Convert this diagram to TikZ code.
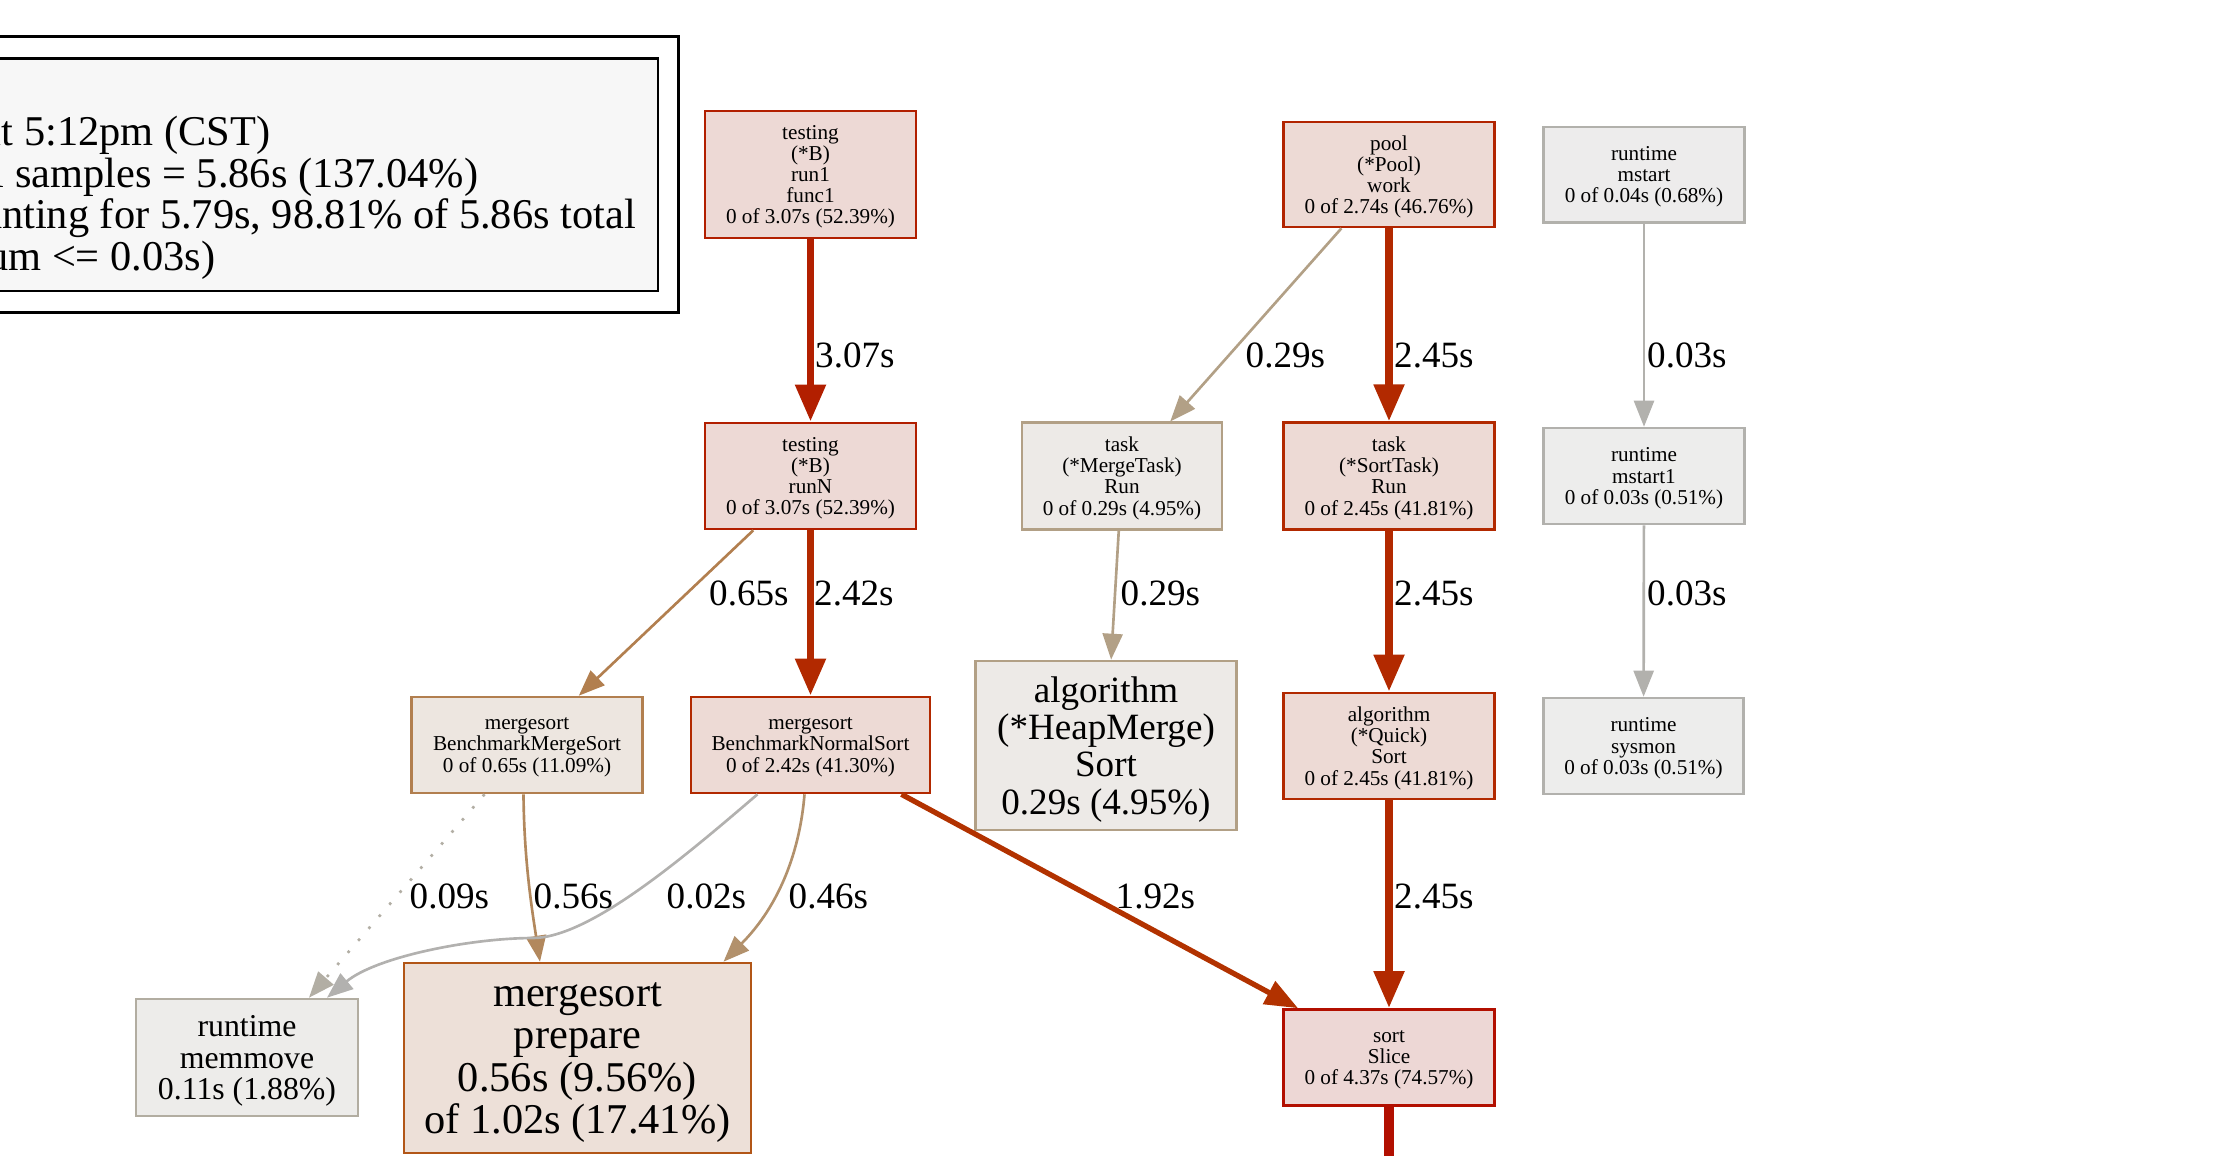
\documentclass[tikz,border=0pt]{standalone}
\usepackage{fontspec}
\setmainfont{Liberation Serif}
\usetikzlibrary{arrows.meta}
\definecolor{cA}{HTML}{B21F00}
\definecolor{fA}{HTML}{EDD9D5}
\definecolor{cPool}{HTML}{B22400}
\definecolor{cB}{HTML}{B22900}
\definecolor{fB}{HTML}{EDDAD5}
\definecolor{cSlice}{HTML}{B20F00}
\definecolor{fSlice}{HTML}{EDD7D5}
\definecolor{cC}{HTML}{B23200}
\definecolor{cMs}{HTML}{B27F4F}
\definecolor{fMs}{HTML}{EDE6E0}
\definecolor{cPrep}{HTML}{B25617}
\definecolor{fPrep}{HTML}{EDE0D8}
\definecolor{cTask}{HTML}{B2A086}
\definecolor{fTask}{HTML}{EDEAE7}
\definecolor{cMem}{HTML}{B2ADA1}
\definecolor{fMem}{HTML}{EDECEA}
\definecolor{cRt}{HTML}{B2B1AD}
\definecolor{fRt}{HTML}{EDEDEC}
\definecolor{cRtf}{HTML}{B2B1AC}
\definecolor{fRtf}{HTML}{EDECEC}
\definecolor{cEfs}{HTML}{B2885D}
\definecolor{cEfh}{HTML}{B2916C}
\definecolor{cEnine}{HTML}{B2AEA4}
\definecolor{cEtwo}{HTML}{B2B1AF}
\definecolor{fLeg}{HTML}{F7F7F7}
\newcommand\nodep[1]{\raisebox{0pt}[\height][0pt]{#1}}
\tikzset{
  fn/.style={draw, rectangle, inner sep=0pt, align=center, line width=2.6pt},
  fsmall/.style={font=\fontsize{21.2}{21.2}\selectfont},
  elab/.style={anchor=west, inner sep=0pt, font=\fontsize{37.1}{37.1}\selectfont},
  legtxt/.style={anchor=base east, inner sep=0pt, font=\fontsize{42.4}{42.4}\selectfont},
  eone/.style={line width=2.65pt, -{Triangle[length=26pt,width=20pt]}},
  etwo/.style={line width=5.3pt, -{Triangle[length=33pt,width=25pt]}},
  ethree/.style={line width=7.95pt, -{Triangle[length=37pt,width=29pt]}},
}
\begin{document}
\begin{tikzpicture}[x=1pt,y=-1pt]
\useasboundingbox (0,0) rectangle (2224,1156);
\clip (0,0) rectangle (2224,1156);

% legend
\node[draw, line width=2.8pt, inner sep=0pt, minimum width=1200pt, minimum height=276.1pt] (legendbox) at (78.6,174.45) {};
\node[draw, line width=2.8pt, fill=fLeg, inner sep=0pt, minimum width=1150pt, minimum height=232.8pt] (legend) at (83,174.6) {};
\node[legtxt] (lgtime) at (270.5,145.5) {at 5:12pm (CST)};
\node[legtxt] (lgsamp) at (478.5,187) {Total samples = 5.86s (137.04\%)};
\node[legtxt] (lgshow) at (636,228.5) {Showing nodes accounting for 5.79s, 98.81\% of 5.86s total};
\node[legtxt] (lgdrop) at (215.5,270) {(cum <= 0.03s)};

% nodes
\node[fn, fsmall, draw=cA, fill=fA, minimum width=211pt, minimum height=127pt] (run1) at (810.5,174.5) {testing\\(*B)\\run1\\func1\\\nodep{0 of 3.07s (52.39\%)}};
\node[fn, fsmall, draw=cPool, fill=fB, minimum width=211pt, minimum height=105pt] (pool) at (1389,174.5) {pool\\(*Pool)\\work\\\nodep{0 of 2.74s (46.76\%)}};
\node[fn, fsmall, draw=cRtf, fill=fRtf, minimum width=200.5pt, minimum height=95.5pt] (mstart) at (1644,174.7) {runtime\\mstart\\\nodep{0 of 0.04s (0.68\%)}};

\node[fn, fsmall, draw=cA, fill=fA, minimum width=211pt, minimum height=106pt] (runN) at (810.5,476) {testing\\(*B)\\runN\\\nodep{0 of 3.07s (52.39\%)}};
\node[fn, fsmall, draw=cTask, fill=fTask, minimum width=200pt, minimum height=106.5pt] (mtask) at (1122,476) {task\\(*MergeTask)\\Run\\\nodep{0 of 0.29s (4.95\%)}};
\node[fn, fsmall, draw=cB, fill=fB, minimum width=211pt, minimum height=106.5pt] (stask) at (1389,476) {task\\(*SortTask)\\Run\\\nodep{0 of 2.45s (41.81\%)}};
\node[fn, fsmall, draw=cRt, fill=fRt, minimum width=200.5pt, minimum height=96pt] (mstart1) at (1644,476) {runtime\\mstart1\\\nodep{0 of 0.03s (0.51\%)}};

\node[fn, fsmall, draw=cMs, fill=fMs, minimum width=230.5pt, minimum height=96pt] (msb) at (527,745) {mergesort\\BenchmarkMergeSort\\\nodep{0 of 0.65s (11.09\%)}};
\node[fn, fsmall, draw=cB, fill=fB, minimum width=239pt, minimum height=96pt] (nsb) at (810.5,745) {mergesort\\BenchmarkNormalSort\\\nodep{0 of 2.42s (41.30\%)}};
\node[fn, font=\fontsize{37.1}{37.1}\selectfont, draw=cTask, fill=fTask, minimum width=260.5pt, minimum height=169pt] (heap) at (1106,745.5) {algorithm\\(*HeapMerge)\\Sort\\\nodep{0.29s (4.95\%)}};
\node[fn, fsmall, draw=cB, fill=fB, minimum width=211pt, minimum height=106pt] (quick) at (1389,746) {algorithm\\(*Quick)\\Sort\\\nodep{0 of 2.45s (41.81\%)}};
\node[fn, fsmall, draw=cRt, fill=fRt, minimum width=200.5pt, minimum height=96pt] (sysmon) at (1643.5,746) {runtime\\sysmon\\\nodep{0 of 0.03s (0.51\%)}};

\node[fn, font=\fontsize{31.8}{31.8}\selectfont, draw=cMem, fill=fMem, minimum width=222pt, minimum height=117pt] (memmove) at (247,1057.5) {runtime\\memmove\\\nodep{0.11s (1.88\%)}};
\node[fn, font=\fontsize{42.4}{42.4}\selectfont, draw=cPrep, fill=fPrep, minimum width=347pt, minimum height=190pt] (prep) at (577.5,1058) {mergesort\\prepare\\0.56s (9.56\%)\\\nodep{of 1.02s (17.41\%)}};
\node[fn, fsmall, draw=cSlice, fill=fSlice, minimum width=211pt, minimum height=96pt] (slice) at (1389,1057.5) {sort\\Slice\\\nodep{0 of 4.37s (74.57\%)}};
\coordinate (sliceout) at (1389,1180);

% edges
\draw[ethree, color=cA] (run1) -- (runN);
\draw[eone, color=cTask] (pool) -- (mtask);
\draw[ethree, color=cB] (pool) -- (stask);
\draw[eone, color=cRt] (mstart) -- (mstart1);

\draw[eone, color=cMs] (runN) -- (msb);
\draw[ethree, color=cB] (runN) -- (nsb);
\draw[eone, color=cTask] (mtask) -- (heap);
\draw[ethree, color=cB] (stask) -- (quick);
\draw[eone, color=cRt] (mstart1) -- (sysmon);

\draw[line width=2.65pt, color=cEnine, dash pattern=on 2.65pt off 13.25pt, -{Triangle[length=26pt,width=20pt]}] (msb) -- ([xshift=62pt]memmove.north);
\draw[eone, color=cEfs] ([xshift=-3.5pt]msb.south) .. controls (524,860) and (532,910) .. ([xshift=-37.5pt]prep.north);
\draw[eone, color=cEtwo] ([xshift=-53pt]nsb.south) .. controls (682,859) and (590,937) .. (533.7,938) .. controls (470,938) and (376,957) .. ([xshift=80pt]memmove.north);
\draw[eone, color=cEfh] ([xshift=-6pt]nsb.south) .. controls (800,850) and (780,905) .. ([xshift=146pt]prep.north);
\draw[etwo, color=cC] (nsb) -- (slice);
\draw[ethree, color=cB] (quick) -- (slice);
\draw[line width=10.6pt, color=cSlice] (slice) -- (sliceout);

% edge labels
\node[elab] (l1) at (815,355) {3.07s};
\node[elab] (l2) at (1245.5,355) {0.29s};
\node[elab] (l3) at (1394,355) {2.45s};
\node[elab] (l4) at (1647,355) {0.03s};
\node[elab] (l5) at (709,593) {0.65s};
\node[elab] (l6) at (814,593) {2.42s};
\node[elab] (l7) at (1120.5,593) {0.29s};
\node[elab] (l8) at (1394,593) {2.45s};
\node[elab] (l9) at (1647,593) {0.03s};
\node[elab] (l10) at (409.5,896) {0.09s};
\node[elab] (l11) at (533.5,896) {0.56s};
\node[elab] (l12) at (666.5,896) {0.02s};
\node[elab] (l13) at (788.5,896) {0.46s};
\node[elab] (l14) at (1115.5,896) {1.92s};
\node[elab] (l15) at (1394,896) {2.45s};
\end{tikzpicture}
\end{document}
